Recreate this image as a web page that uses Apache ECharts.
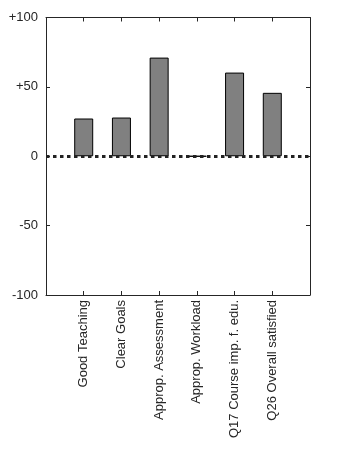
<!DOCTYPE html>
<html>
<head>
<meta charset="utf-8">
<script src="https://cdn.jsdelivr.net/npm/echarts@6/dist/echarts.min.js"></script>
<style>
  html, body { margin: 0; padding: 0; background: #fff; }
  #chart { width: 354px; height: 472px; }
</style>
</head>
<body>
<div id="chart"></div>
<script>
// categories sit at x = 1..6 on a 0..7 axis
const categories = ['Good Teaching', 'Clear Goals', 'Approp. Assessment', 'Approp. Workload', 'Q17 Course imp. f. edu.', 'Q26 Overall satisfied']
const scores = [27.2, 27.9, 71.1, 0, 60.3, 45.7]
const yTicks = { '100': '+100', '50': '+50', '0': '0', '-50': '-50', '-100': '-100' }

const axisColor = '#262626'
const font = 'Liberation Sans, Arial, sans-serif'

const chart = echarts.init(document.getElementById('chart'))

const barData = scores.map((v, i) => [i + 1, v])

// box axes: bottom/top and left/right, ticks pointing inward
const xAxisBase = pos => ({
  type: 'value', min: 0, max: 7, interval: 1, position: pos,
  axisLine: { show: true, onZero: false, lineStyle: { color: axisColor, width: 1 } },
  axisTick: {
    show: true, inside: true, length: 4, lineStyle: { color: axisColor },
    customValues: [1, 2, 3, 4, 5, 6]
  },
  splitLine: { show: false }
})
const yAxisBase = pos => ({
  type: 'value', min: -100, max: 100, interval: 50, position: pos,
  axisLine: { show: true, onZero: false, lineStyle: { color: axisColor, width: 1 } },
  axisTick: { show: true, inside: true, length: 4, lineStyle: { color: axisColor } },
  splitLine: { show: false }
})

const option = {
  animation: false,
  grid: { left: 46, right: 44, top: 17.5, bottom: 177, containLabel: false },
  xAxis: [
    Object.assign(xAxisBase('bottom'), {
      axisLabel: {
        rotate: 90, margin: 5, color: axisColor, fontSize: 13, fontFamily: font,
        customValues: [1, 2, 3, 4, 5, 6],
        formatter: v => categories[v - 1] || ''
      }
    }),
    Object.assign(xAxisBase('top'), { axisLabel: { show: false } })
  ],
  yAxis: [
    Object.assign(yAxisBase('left'), {
      axisLabel: {
        margin: 8, color: axisColor, fontSize: 13, fontFamily: font,
        formatter: v => yTicks[String(v)]
      }
    }),
    Object.assign(yAxisBase('right'), { axisLabel: { show: false } })
  ],
  series: [
    {
      type: 'bar',
      xAxisIndex: 0,
      yAxisIndex: 0,
      barWidth: 19,
      data: barData,
      itemStyle: { color: '#808080', borderColor: '#000', borderWidth: 1 },
      markLine: {
        silent: true,
        symbol: 'none',
        label: { show: false },
        z: 10,
        lineStyle: { color: '#222', width: 3, type: [3.5, 3.5], opacity: 1 },
        data: [{ yAxis: 0 }]
      }
    }
  ]
}

chart.setOption(option)
</script>
</body>
</html>
